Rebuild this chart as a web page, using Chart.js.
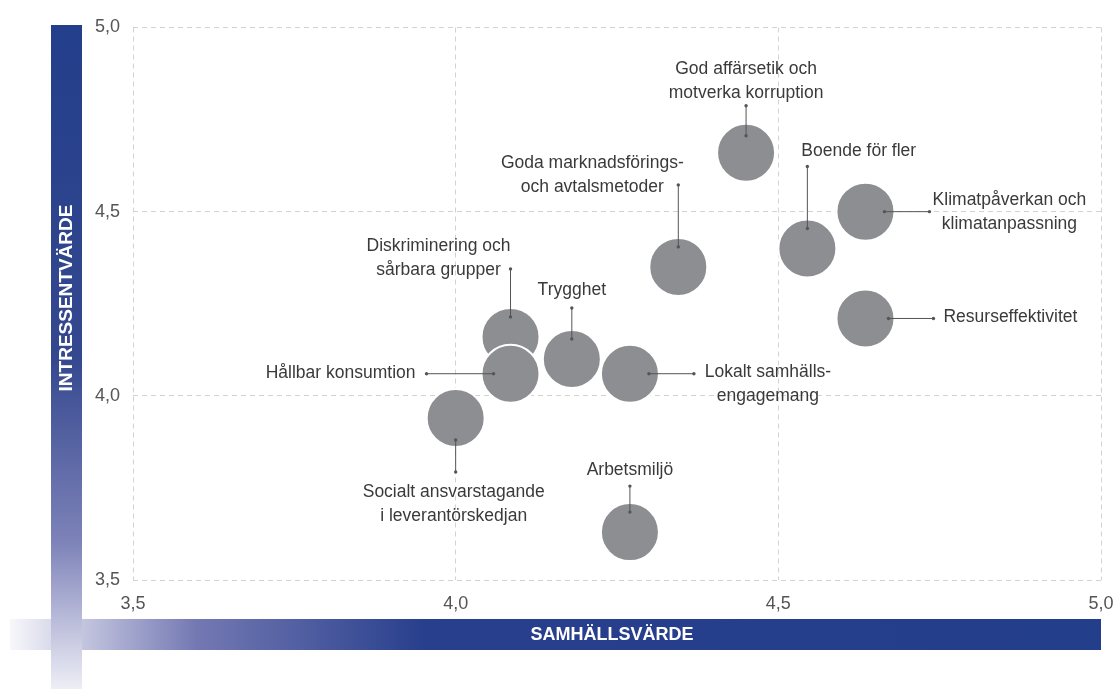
<!DOCTYPE html>
<html><head><meta charset="utf-8">
<script src="https://cdn.jsdelivr.net/npm/chart.js@4"></script>
<style>html,body{margin:0;padding:0;background:#fff;overflow:hidden}</style>
</head><body>
<canvas id="c" width="1117" height="689" style="display:block;width:1117px;height:689px"></canvas>
<script>
// ---- data ----
const topics = [
  "God affärsetik och\nmotverka korruption",
  "Boende för fler",
  "Klimatpåverkan och\nklimatanpassning",
  "Resurseffektivitet",
  "Goda marknadsförings-\noch avtalsmetoder",
  "Diskriminering och\nsårbara grupper",
  "Trygghet",
  "Hållbar konsumtion",
  "Lokalt samhälls-\nengagemang",
  "Socialt ansvarstagande\ni leverantörskedjan",
  "Arbetsmiljö"
];
const samhallsvarde   = [4.45, 4.545, 4.635, 4.635, 4.345, 4.085, 4.18, 4.085, 4.27, 4.00, 4.27];
const intressentvarde = [4.66, 4.40, 4.50, 4.21, 4.35, 4.16, 4.10, 4.06, 4.06, 3.94, 3.63];
const axisTicks = [3.5, 4.0, 4.5, 5.0];
const xTitle = "SAMHÄLLSVÄRDE";
const yTitle = "INTRESSENTVÄRDE";

// ---- callout layout (pixel offsets from bubble centre) ----
const callouts = [
  {line:[0,-17,0,-47],  text:[0,-84],   align:'center'},
  {line:[0,-20,0,-82],  text:[-6,-97],  align:'left'},
  {line:[19,0,64,0],    text:[144,-11], align:'center'},
  {line:[23,0,68,0],    text:[78,-1],   align:'left'},
  {line:[0,-20,0,-82],  text:[-86,-104],align:'center'},
  {line:[0,-20,0,-68],  text:[-72,-91], align:'center'},
  {line:[0,-20,0,-51],  text:[0,-69],   align:'center'},
  {line:[-17,0,-84,0],  text:[-95,-1],  align:'right'},
  {line:[19,0,64,0],    text:[138,-2],  align:'center'},
  {line:[0,22,0,54],    text:[-2,74],   align:'center'},
  {line:[0,-20,0,-46],  text:[0,-62],   align:'center'}
];

const points = samhallsvarde.map((x,i)=>({x:x, y:intressentvarde[i], r:29}));
const fmt = v => Number(v).toFixed(1).replace('.', ',');
const noPad = s => { s.paddingLeft = 0; s.paddingRight = 0; s.paddingTop = 0; s.paddingBottom = 0; };

const decor = {
  id:'decor',
  beforeDraw(chart){
    const ctx = chart.ctx;
    ctx.save();
    // horizontal band
    let g = ctx.createLinearGradient(10,0,1101,0);
    g.addColorStop(0,'#f7f7fb');
    g.addColorStop(0.17,'#7479b3');
    g.addColorStop(0.38,'#283f8d');
    g.addColorStop(1,'#233e8b');
    ctx.fillStyle = g;
    ctx.fillRect(10,619,1091,31);
    // vertical band
    g = ctx.createLinearGradient(0,25,0,689);
    g.addColorStop(0,'#233e8b');
    g.addColorStop(0.5,'#34488f');
    g.addColorStop(0.78,'#7e83b9');
    g.addColorStop(1,'#eeeef6');
    ctx.fillStyle = g;
    ctx.fillRect(51,25,31,664);
    // titles
    ctx.fillStyle = '#ffffff';
    ctx.font = "bold 18px 'Liberation Sans', Arial, sans-serif";
    ctx.textAlign = 'center';
    ctx.textBaseline = 'middle';
    ctx.fillText(xTitle, 612, 635);
    ctx.translate(67, 298);
    ctx.rotate(-Math.PI/2);
    ctx.font = "bold 19px 'Liberation Sans', Arial, sans-serif";
    ctx.fillText(yTitle, 0, 0);
    ctx.restore();
  },
  afterDatasetsDraw(chart){
    const ctx = chart.ctx;
    const meta = chart.getDatasetMeta(0);
    ctx.save();
    meta.data.forEach((el,i)=>{
      const c = callouts[i];
      const x1 = el.x + c.line[0], y1 = el.y + c.line[1];
      const x2 = el.x + c.line[2], y2 = el.y + c.line[3];
      ctx.strokeStyle = '#555'; ctx.lineWidth = 1;
      ctx.beginPath(); ctx.moveTo(x1,y1); ctx.lineTo(x2,y2); ctx.stroke();
      ctx.fillStyle = '#555';
      [[x1,y1],[x2,y2]].forEach(p=>{ctx.beginPath(); ctx.arc(p[0],p[1],1.7,0,Math.PI*2); ctx.fill();});
      ctx.fillStyle = '#3a3a3a';
      ctx.font = "17.5px 'Liberation Sans', Arial, sans-serif";
      ctx.textAlign = c.align;
      ctx.textBaseline = 'middle';
      topics[i].split('\n').forEach((ln,k)=>{
        ctx.fillText(ln, el.x + c.text[0], el.y + c.text[1] + k*24);
      });
    });
    ctx.restore();
  }
};

const tickFont = {family:"'Liberation Sans', Arial, sans-serif", size:18};
new Chart(document.getElementById('c'), {
  type:'bubble',
  data:{datasets:[{
    data: points,
    backgroundColor:'#8d8e91',
    borderColor:'#ffffff',
    borderWidth:2,
    hoverBackgroundColor:'#8d8e91',
    hoverBorderColor:'#ffffff',
    clip:false
  }]},
  options:{
    responsive:false,
    devicePixelRatio:1,
    animation:false,
    events:[],
    layout:{autoPadding:false, padding:{left:0,right:16,top:27.5,bottom:0}},
    plugins:{legend:{display:false},tooltip:{enabled:false}},
    scales:{
      x:{
        type:'linear', min:axisTicks[0], max:axisTicks[axisTicks.length-1],
        afterBuildTicks: s => { s.ticks = axisTicks.map(v=>({value:v})); },
        afterFit: s => { s.height = 109; noPad(s); },
        ticks:{callback: v=>fmt(v), color:'#555', font:tickFont, padding:13, maxRotation:0},
        grid:{color:'#d2d2d2', lineWidth:1, drawTicks:false},
        border:{display:false, dash:[5,4]}
      },
      y:{
        type:'linear', min:axisTicks[0], max:axisTicks[axisTicks.length-1],
        afterBuildTicks: s => { s.ticks = axisTicks.map(v=>({value:v})); },
        afterFit: s => { s.width = 133; noPad(s); },
        ticks:{callback: v=>fmt(v), color:'#555', font:tickFont, padding:13},
        grid:{color:'#d2d2d2', lineWidth:1, drawTicks:false},
        border:{display:false, dash:[5,4]}
      }
    }
  },
  plugins:[decor]
});
</script>
</body></html>
